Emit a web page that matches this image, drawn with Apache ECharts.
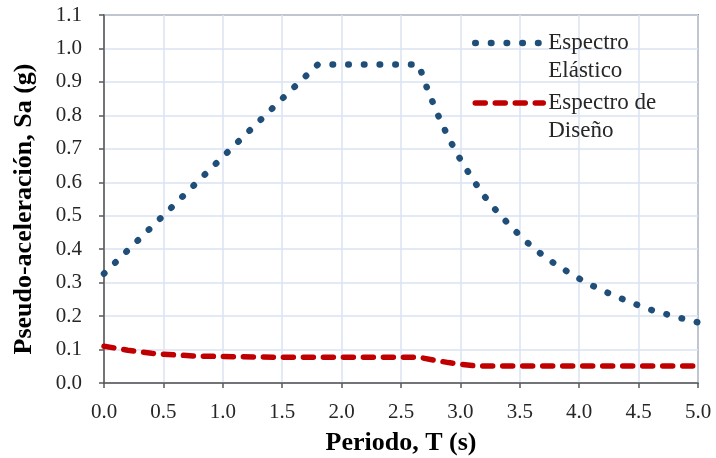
<!DOCTYPE html>
<html>
<head>
<meta charset="utf-8">
<script src="https://cdn.jsdelivr.net/npm/echarts@6/dist/echarts.min.js"></script>
<style>
  html, body { margin: 0; padding: 0; background: #fff; }
  #chart { width: 716px; height: 458px; }
</style>
</head>
<body>
<div id="chart"></div>
<script>
var myChart = echarts.init(document.getElementById("chart"));

// espectro elastico: [T (s), Sa (g)]
var elasticT = [0, 0.5, 1.0, 1.5, 1.8, 2.65, 2.7, 2.8, 2.9, 3.0, 3.1, 3.2, 3.3, 3.4, 3.5, 3.6, 3.7, 3.8, 3.9, 4.0, 4.1, 4.2, 4.3, 4.4, 4.5, 4.6, 4.7, 4.8, 4.9, 5.0];
var elasticSa = [0.327, 0.501, 0.676, 0.850, 0.952, 0.952, 0.899, 0.810, 0.733, 0.668, 0.611, 0.559, 0.516, 0.477, 0.441, 0.408, 0.380, 0.355, 0.333, 0.312, 0.293, 0.276, 0.260, 0.246, 0.232, 0.219, 0.209, 0.199, 0.190, 0.181];

// espectro de diseño
var disenoT = [0, 0.1, 0.2, 0.3, 0.4, 0.5, 0.75, 1.0, 1.5, 2.0, 2.65, 2.8, 2.9, 3.0, 3.1, 3.2, 5.0];
var disenoSa = [0.110, 0.104, 0.098, 0.093, 0.089, 0.086, 0.081, 0.079, 0.077, 0.077, 0.077, 0.067, 0.061, 0.056, 0.052, 0.051, 0.051];

var seriesNames = ["Espectro\nElástico", "Espectro de\nDiseño"];

var blue = "#1f4e79";
var red = "#c00000";
var dotted = { width: 6.5, type: [0.5, 15.19], cap: "round" };
var dashed = { width: 5.5, type: [10, 10], cap: "round" };

function pairs(xs, ys) {
	var out = [];
	for (var i = 0; i < xs.length; i++) {
		out.push([xs[i], ys[i]]);
	}
	return out;
}

var serif = "'Liberation Serif', 'DejaVu Serif', serif";

var option = {
	backgroundColor: "#ffffff",
	animation: false,
	textStyle: { fontFamily: serif },
	grid: {
		left: 104,
		right: 18,
		top: 15,
		bottom: 75,
		outerBoundsMode: "none",
		show: true,
		borderColor: "#404040",
		borderWidth: 1.5
	},
	legend: {
		orient: "vertical",
		left: 467,
		top: -4,
		itemWidth: 68,
		itemHeight: 14,
		itemGap: -24,
		itemStyle: { opacity: 0 },
		textStyle: {
			fontFamily: serif,
			fontSize: 23,
			color: "#262626",
			lineHeight: 28
		},
		// linea vacia arriba para que el icono quede a la altura de la primera linea
		formatter: function(name) {
			return "\n" + name;
		},
		data: [{
			name: seriesNames[0],
			lineStyle: { color: blue, width: dotted.width, type: dotted.type, cap: dotted.cap }
		}, {
			name: seriesNames[1],
			lineStyle: { color: red, width: dashed.width, type: dashed.type, cap: dashed.cap }
		}]
	},
	xAxis: {
		type: "value",
		min: 0,
		max: 5,
		interval: 0.5,
		name: "Periodo, T (s)",
		nameLocation: "middle",
		nameGap: 47,
		nameMoveOverlap: false,
		nameTextStyle: { fontFamily: serif, fontSize: 26, fontWeight: "bold", color: "#000" },
		axisLine: { show: true, lineStyle: { color: "#595959", width: 1.5 } },
		axisTick: { show: true, inside: false, length: 5, lineStyle: { color: "#595959", width: 1.5 } },
		axisLabel: {
			margin: 19,
			fontFamily: serif,
			fontSize: 21,
			color: "#262626",
			formatter: function(v) { return v.toFixed(1); }
		},
		splitLine: { show: true, lineStyle: { color: "#dae3f3", width: 1.5 } }
	},
	yAxis: {
		type: "value",
		min: 0,
		max: 1.1,
		interval: 0.1,
		name: "Pseudo-aceleración, Sa (g)",
		nameLocation: "middle",
		nameGap: 67,
		nameRotate: 90,
		nameMoveOverlap: false,
		nameTextStyle: {
			fontFamily: serif,
			fontSize: 26,
			fontWeight: "bold",
			color: "#000",
			padding: [0, 20, 0, 0]
		},
		axisLine: { show: true, lineStyle: { color: "#595959", width: 1.5 } },
		axisTick: { show: true, inside: false, length: 5, lineStyle: { color: "#595959", width: 1.5 } },
		axisLabel: {
			margin: 22,
			fontFamily: serif,
			fontSize: 21,
			color: "#262626",
			formatter: function(v) { return v.toFixed(1); }
		},
		splitLine: { show: true, lineStyle: { color: "#dae3f3", width: 1.5 } }
	},
	series: [{
		name: seriesNames[0],
		type: "line",
		showSymbol: false,
		symbol: "none",
		z: 3,
		itemStyle: { color: blue },
		lineStyle: { color: blue, width: dotted.width, type: dotted.type, cap: dotted.cap },
		data: pairs(elasticT, elasticSa)
	}, {
		name: seriesNames[1],
		type: "line",
		showSymbol: false,
		symbol: "none",
		z: 2,
		itemStyle: { color: red },
		lineStyle: { color: red, width: dashed.width, type: dashed.type, cap: dashed.cap },
		data: pairs(disenoT, disenoSa)
	}]
};

myChart.setOption(option);
</script>
</body>
</html>
